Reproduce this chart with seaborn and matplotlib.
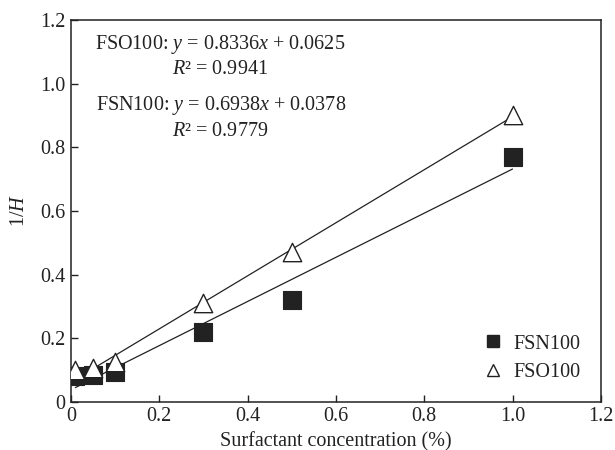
import matplotlib
matplotlib.use("Agg")
import matplotlib.pyplot as plt
import numpy as np
import pandas as pd
import seaborn as sns
from matplotlib.lines import Line2D

# Surfactant concentration (%) and measured 1/H for each surfactant
concentration = [0.01, 0.05, 0.1, 0.3, 0.5, 1.0]
fsn100_inv_h = [0.080, 0.085, 0.093, 0.220, 0.320, 0.770]
fso100_inv_h = [0.100, 0.105, 0.125, 0.310, 0.470, 0.900]

# Linear fits: slope, intercept, R^2
fso100_fit = (0.8336, 0.0625, 0.9941)
fsn100_fit = (0.6938, 0.0378, 0.9779)

x_ticks = [0, 0.2, 0.4, 0.6, 0.8, 1.0, 1.2]
y_ticks = [0, 0.2, 0.4, 0.6, 0.8, 1.0, 1.2]
x_tick_labels = ["0", "0.2", "0.4", "0.6", "0.8", "1.0", "1.2"]
y_tick_labels = ["0", "0.2", "0.4", "0.6", "0.8", "1.0", "1.2"]

sns.set_theme(style="ticks")
plt.rcParams["font.family"] = ["Liberation Serif", "DejaVu Serif"]
plt.rcParams["mathtext.fontset"] = "custom"
plt.rcParams["mathtext.rm"] = "Liberation Serif"
plt.rcParams["mathtext.it"] = "Liberation Serif:italic"
plt.rcParams["mathtext.bf"] = "Liberation Serif:bold"

FS = 14.5
ink = "#222222"

df_fsn = pd.DataFrame({"c": concentration, "v": fsn100_inv_h})
df_fso = pd.DataFrame({"c": concentration, "v": fso100_inv_h})

fig = plt.figure(figsize=(6.15, 4.5), dpi=100)
ax = fig.add_axes([0.1154, 0.1071, 0.977 - 0.1154, 0.9556 - 0.1071])

# Fitted lines over the measured range
xs = np.array([concentration[0], concentration[-1]])
fit_df = pd.DataFrame({
    "c": np.concatenate([xs, xs]),
    "v": np.concatenate([fso100_fit[0] * xs + fso100_fit[1],
                         fsn100_fit[0] * xs + fsn100_fit[1]]),
    "series": ["FSO100"] * 2 + ["FSN100"] * 2,
})
for name, sub in fit_df.groupby("series"):
    sns.lineplot(data=sub, x="c", y="v", ax=ax, color=ink, linewidth=0.9,
                 legend=False, zorder=2)

sns.scatterplot(data=df_fsn, x="c", y="v", ax=ax, marker="s", s=175,
                color=ink, edgecolor=ink, linewidth=0.8, zorder=3, legend=False)
sns.scatterplot(data=df_fso, x="c", y="v", ax=ax, marker="^", s=175,
                facecolor="white", edgecolor=ink, linewidth=1.0, zorder=4,
                legend=False)

ax.set_xlim(0, 1.2)
ax.set_ylim(0, 1.2)
ax.set_xticks(x_ticks)
ax.set_xticklabels(x_tick_labels)
ax.set_yticks(y_ticks)
ax.set_yticklabels(y_tick_labels)
ax.tick_params(direction="in", length=5, width=1, colors=ink, labelsize=FS,
               labelcolor=ink, top=False, right=False, pad=4)
for sp in ax.spines.values():
    sp.set_color(ink)
    sp.set_linewidth(1.1)

ax.set_xlabel("Surfactant concentration (%)", fontsize=FS, color=ink, labelpad=4)
ax.set_ylabel(r"1/$H$", fontsize=FS, color=ink, labelpad=8)

# Equation annotations
tx = 0.337
ax.text(tx, 1.123, r"FSO100: $y$ = %.4f$x$ + %.4f" % fso100_fit[:2],
        ha="center", va="center", fontsize=FS, color=ink)
ax.text(tx, 1.044, r"$R$² = %.4f" % fso100_fit[2],
        ha="center", va="center", fontsize=FS, color=ink)
ax.text(tx + 0.004, 0.931, r"FSN100: $y$ = %.4f$x$ + %.4f" % fsn100_fit[:2],
        ha="center", va="center", fontsize=FS, color=ink)
ax.text(tx, 0.849, r"$R$² = %.4f" % fsn100_fit[2],
        ha="center", va="center", fontsize=FS, color=ink)

handles = [
    Line2D([], [], linestyle="none", marker="s", markersize=8,
           markerfacecolor=ink, markeredgecolor=ink, label="FSN100"),
    Line2D([], [], linestyle="none", marker="^", markersize=8,
           markerfacecolor="white", markeredgecolor=ink, markeredgewidth=1.0,
           label="FSO100"),
]
ax.legend(handles=handles, loc="lower right", frameon=False, fontsize=FS,
          handlelength=0.8, handletextpad=0.6, labelspacing=0.45,
          borderaxespad=0.6, labelcolor=ink)

fig.savefig("out.png", dpi=100)
